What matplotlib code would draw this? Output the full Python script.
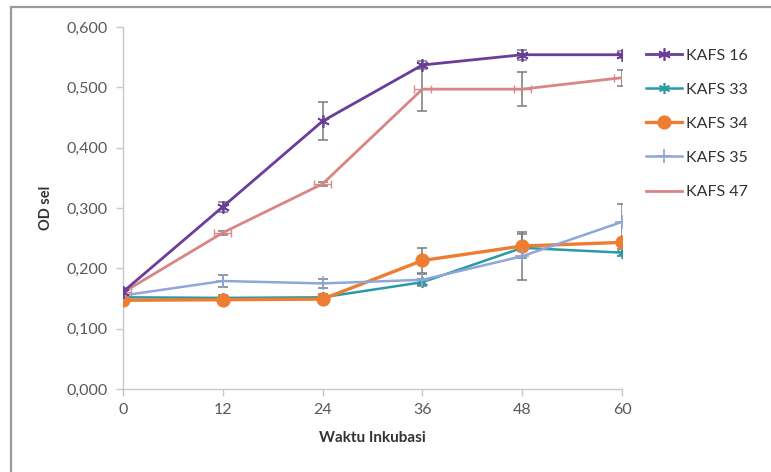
import matplotlib
matplotlib.use("Agg")
import matplotlib.pyplot as plt
from matplotlib.patches import Rectangle

plt.rcParams['font.family'] = ['Lato', 'DejaVu Sans']

# Incubation time (hours)
hours = [0, 12, 24, 36, 48, 60]

# Optical density of cells per isolate
kafs16 = [0.161, 0.302, 0.444, 0.537, 0.554, 0.554]
kafs33 = [0.152, 0.151, 0.152, 0.177, 0.234, 0.226]
kafs34 = [0.147, 0.148, 0.149, 0.213, 0.237, 0.243]
kafs35 = [0.155, 0.179, 0.175, 0.181, 0.220, 0.277]
kafs47 = [0.160, 0.259, 0.340, 0.497, 0.497, 0.516]

# Standard deviations
err16 = [0.006, 0.008, 0.031, 0.006, 0.008, 0.006]
err33 = [0.004, 0.004, 0.005, 0.005, 0.005, 0.006]
err34 = [0.004, 0.004, 0.004, 0.020, 0.020, 0.006]
err35 = [0.006, 0.010, 0.008, 0.010, 0.040, 0.030]
err47 = [0.005, 0.003, 0.003, 0.036, 0.028, 0.013]
xerr47 = [1.0, 1.0, 1.0, 1.0, 1.0, 1.0]

y_ticks = [0.0, 0.1, 0.2, 0.3, 0.4, 0.5, 0.6]
y_labels = ["0,000", "0,100", "0,200", "0,300", "0,400", "0,500", "0,600"]

fig = plt.figure(figsize=(7.71, 4.72), dpi=100)
fig.patch.set_facecolor('white')
fig.patches.append(Rectangle((11 / 771, -0.05), 1.1, 1 - 7 / 472 + 0.05,
                             transform=fig.transFigure, fill=False,
                             edgecolor='#9a9a9a', linewidth=1.6))

ax = fig.add_axes([123 / 771, 1 - 389 / 472, (622 - 123) / 771, (389 - 27) / 472])
ax.set_facecolor('none')

err_kw = dict(ecolor='#7a7a7a', elinewidth=1.1, capsize=3.5, capthick=1.1)

series = [
    ("KAFS 16", kafs16, err16, '#6a3d9a', (6, 2, 0), 2.0, 9),
    ("KAFS 33", kafs33, err33, '#2b9aa6', (6, 2, 0), 1.8, 8),
    ("KAFS 34", kafs34, err34, '#ed7d31', 'o', 2.4, 9),
    ("KAFS 35", kafs35, err35, '#8ea7d8', '+', 1.8, 10),
]
handles = []
for name, vals, err, col, mk, lw, ms in series:
    ax.errorbar(hours, vals, yerr=err, fmt='none', zorder=2, **err_kw)
    h, = ax.plot(hours, vals, color=col, lw=lw, marker=mk, ms=ms,
                 mfc=col, mec=col, mew=1.2, zorder=3, label=name)
    handles.append(h)

ax.errorbar(hours, kafs47, yerr=err47, fmt='none', zorder=2, **err_kw)
ax.errorbar(hours, kafs47, xerr=xerr47, fmt='none', ecolor='#d98a8a',
            elinewidth=1.0, capsize=3, capthick=1.0, zorder=2)
h47, = ax.plot(hours, kafs47, color='#d98585', lw=2.0, zorder=3, label="KAFS 47")
handles.append(h47)

# keep the purple series on top
handles[0].set_zorder(5)

ax.set_xlim(0, 60)
ax.set_ylim(0, 0.6)
ax.set_xticks(hours)
ax.set_xticklabels([str(h) for h in hours])
ax.set_yticks(y_ticks)
ax.set_yticklabels(y_labels)

for s in ['top', 'right']:
    ax.spines[s].set_visible(False)
for s in ['left', 'bottom']:
    ax.spines[s].set_color('#c8c8c8')
    ax.spines[s].set_linewidth(1.0)
ax.tick_params(axis='both', colors='#c8c8c8', length=5, width=1.0,
               labelcolor='#595959', labelsize=11.5)
ax.tick_params(axis='y', pad=6)
ax.tick_params(axis='x', pad=5)

ax.set_ylabel("OD sel", fontsize=10.5, fontweight='bold', color='#333333', labelpad=10)
ax.set_xlabel("Waktu Inkubasi", fontsize=11, fontweight='bold', color='#333333', labelpad=10)
for lab in ax.get_xticklabels() + ax.get_yticklabels():
    lab.set_clip_on(False)

leg = fig.legend(handles=handles, loc='upper left',
                 bbox_to_anchor=(640 / 771, 1 - 42 / 472), frameon=False,
                 fontsize=11.5, handlelength=2.2, handletextpad=0.25,
                 labelspacing=1.25, borderaxespad=0)
for t in leg.get_texts():
    t.set_color('#333333')

fig.savefig("out.png", dpi=100, facecolor=fig.get_facecolor())
